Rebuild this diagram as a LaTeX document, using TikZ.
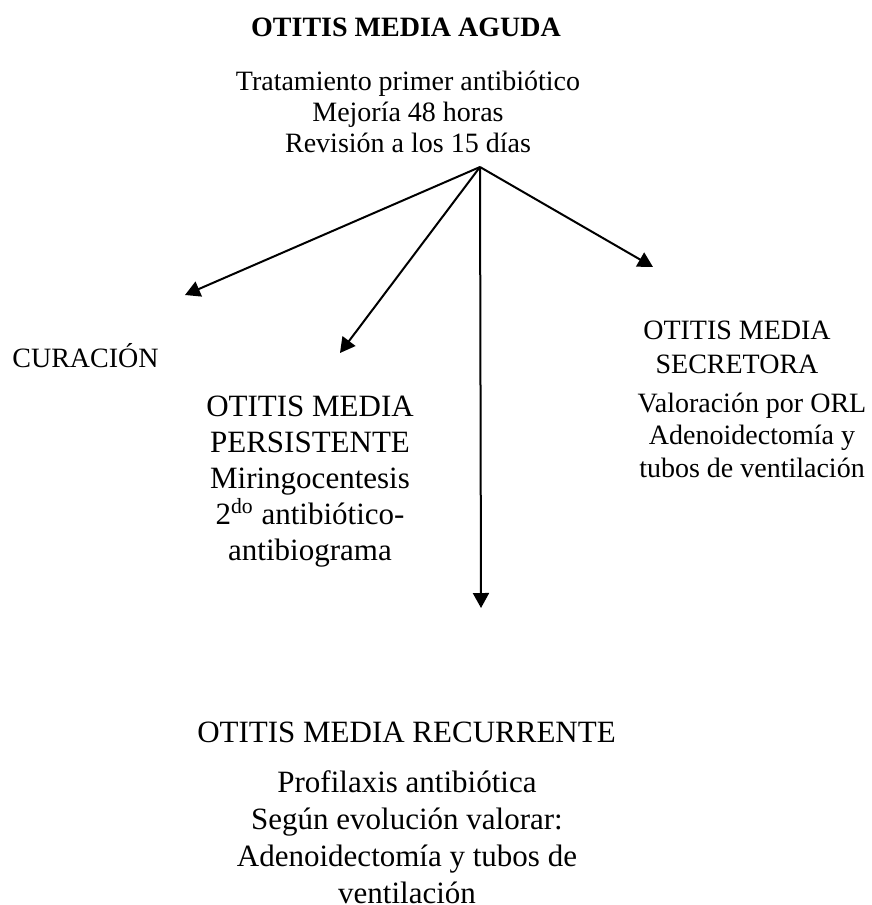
\documentclass[tikz,border=0pt]{standalone}
\usepackage{fontspec}
\setmainfont{Liberation Serif}
\usetikzlibrary{arrows.meta}
\begin{document}
\begin{tikzpicture}[x=0.5pt,y=-0.5pt,
  txt/.style={inner sep=0pt, anchor=base, align=center},
  bodytext/.style={font=\fontsize{14}{15.5}\selectfont},
  bigtext/.style={font=\fontsize{15.5}{18}\selectfont},
  arr/.style={line width=1pt, -{Triangle[length=7.5pt,width=8pt]}}]
\useasboundingbox (0,0) rectangle (872,905);
% multi-line nodes: anchor=base is the baseline of the last line
\node[txt, font=\fontsize{14}{15.5}\selectfont\bfseries] (title) at (406,36) {OTITIS MEDIA AGUDA};
\node[txt, bodytext] (top) at (408,152) {Tratamiento primer antibiótico\\Mejoría 48 horas\\Revisión a los 15 días};
\node[txt, bodytext, anchor=base west] (cur) at (12,367) {CURACIÓN};
\node[txt, bigtext] (pers) at (310,560) {OTITIS MEDIA\\PERSISTENTE\\Miringocentesis\\2\textsuperscript{do} antibiótico-\\antibiograma};
\node[txt, font=\fontsize{14}{17}\selectfont] (sech) at (737,373) {OTITIS MEDIA\\SECRETORA};
\node[txt, font=\fontsize{14}{16.25}\selectfont] (secb) at (752,477) {Valoración por ORL\\Adenoidectomía y\\tubos de ventilación};
\node[txt, bigtext] (rech) at (406.5,742) {OTITIS MEDIA RECURRENTE};
\node[txt, font=\fontsize{15.5}{18.5}\selectfont] (recb) at (407,903) {Profilaxis antibiótica\\Según evolución valorar:\\Adenoidectomía y tubos de\\ventilación};
\coordinate (apex) at (480,167);
\coordinate (tcur) at (185,295);
\coordinate (tpers) at (340,353);
\coordinate (trec) at (481,608);
\coordinate (tsec) at (653,267);
\draw[arr] (apex) -- (tcur);
\draw[arr] (apex) -- (tpers);
\draw[arr] (apex) -- (trec);
\draw[arr] (apex) -- (tsec);
\end{tikzpicture}
\end{document}
